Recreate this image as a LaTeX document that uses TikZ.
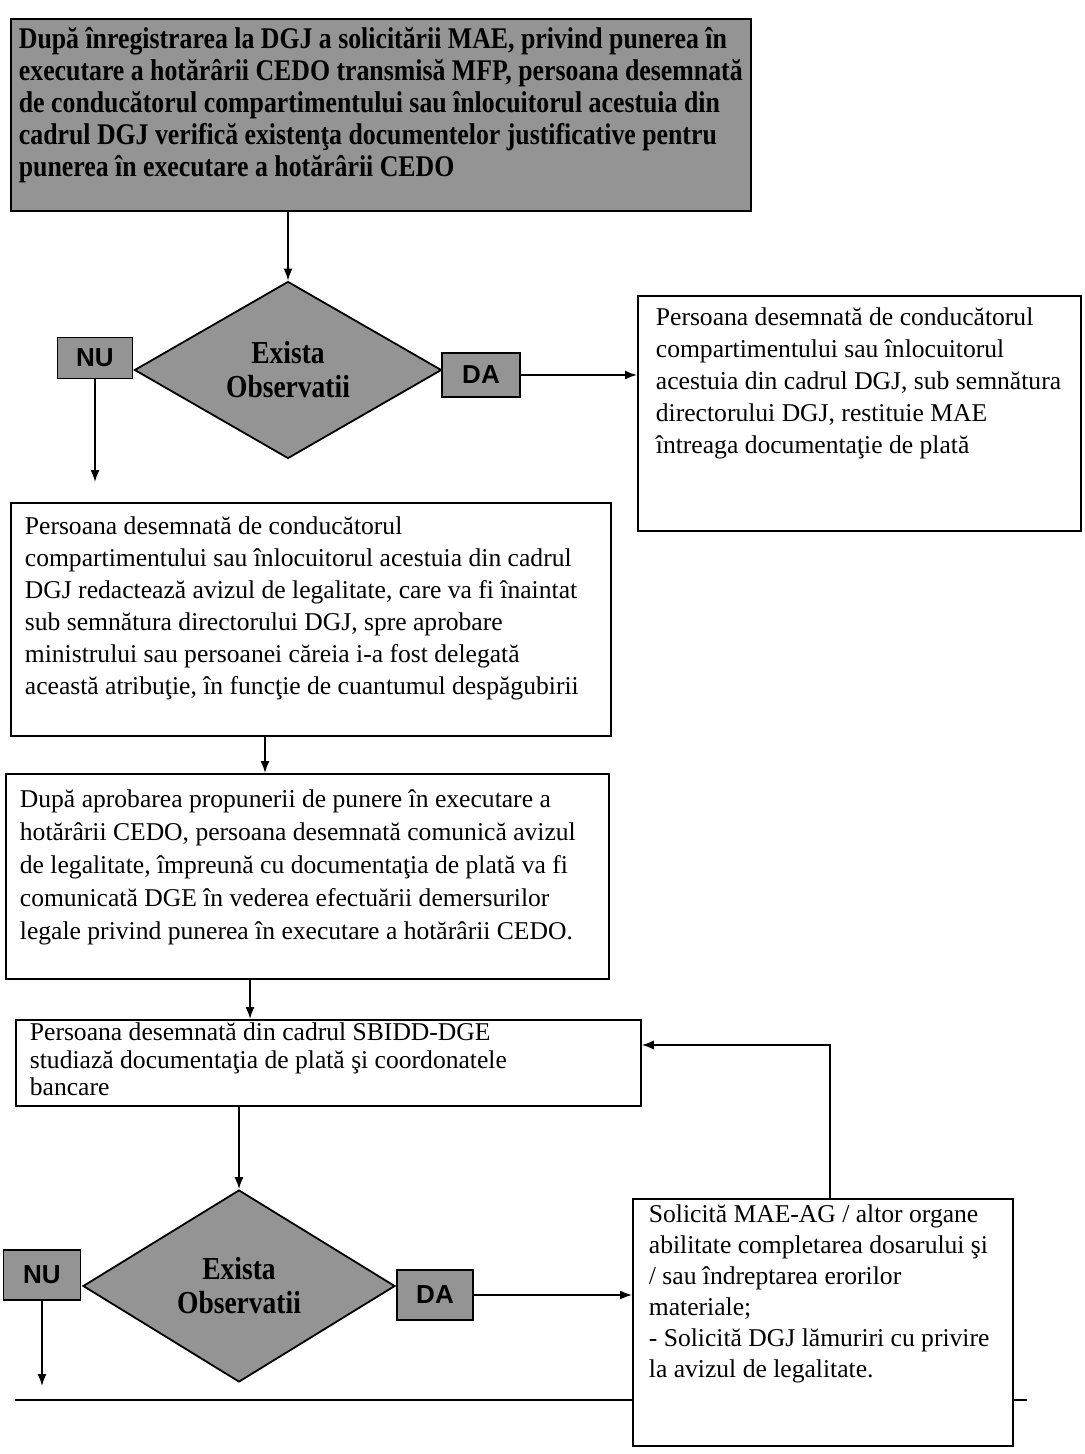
\documentclass[tikz,border=0pt]{standalone}
\usepackage{fontspec}
\setmainfont{Liberation Serif}
\newfontfamily\sansb{Liberation Sans}
\newfontfamily\condf{Liberation Serif}[FakeStretch=0.86]
\usetikzlibrary{shapes.geometric,arrows.meta}
\newcommand\mybx[3]{\parbox[c][#2][t]{#1}{\raggedright #3}}
\begin{document}
\begin{tikzpicture}[x=0.5pt,y=-0.5pt,
  shaded/.style={draw=black, line width=0.9pt, fill=black!42},
  plain/.style={draw=black, line width=0.9pt, fill=white, anchor=north west,
    font=\fontsize{12.8}{16}\selectfont},
  arr/.style={line width=0.8pt, -{Latex[length=6pt,width=4.5pt]}},
  lbl/.style={shaded, inner sep=0pt, font=\sansb\bfseries\fontsize{13}{13}\selectfont},
  dec/.style={shaded, diamond, aspect=1.73, inner sep=0pt, align=center,
    font=\condf\bfseries\fontsize{16}{17}\selectfont}
]
\useasboundingbox (0,0) rectangle (1084,1454);

% top box
\node[shaded, anchor=north west, inner xsep=4pt, inner ysep=4pt,
  font=\condf\bfseries\fontsize{15}{16}\selectfont] (top) at (10,18)
  {\mybx{362pt}{88pt}{După înregistrarea la DGJ a solicitării MAE, privind punerea în\\
  executare a hotărârii CEDO transmisă MFP, persoana desemnată\\
  de conducătorul compartimentului sau înlocuitorul acestuia din\\
  cadrul DGJ verifică existenţa documentelor justificative pentru\\
  punerea în executare a hotărârii CEDO}};

% first decision
\node[dec, minimum width=153.5pt, minimum height=88.5pt] (d1) at (288,370) {Exista\\Observatii};
\node[lbl, minimum width=37.5pt, minimum height=20.5pt] (nu1) at (95,358) {NU};
\node[lbl, minimum width=39pt, minimum height=22pt] (da1) at (481,375) {DA};

\node[plain, inner xsep=9pt, inner ysep=6pt] (rb1) at (637,295)
  {\mybx{203.5pt}{105.5pt}{Persoana desemnată de conducătorul\\
  compartimentului sau înlocuitorul\\
  acestuia din cadrul DGJ, sub semnătura\\
  directorului DGJ, restituie MAE\\
  întreaga documentaţie de plată}};

\node[plain, inner xsep=7pt, inner ysep=7pt] (b2) at (10,502)
  {\mybx{286pt}{102.5pt}{Persoana desemnată de conducătorul\\
  compartimentului sau înlocuitorul acestuia din cadrul\\
  DGJ redactează avizul de legalitate, care va fi înaintat\\
  sub semnătura directorului DGJ, spre aprobare\\
  ministrului sau persoanei căreia i-a fost delegată\\
  această atribuţie, în funcţie de cuantumul despăgubirii}};

\node[plain, inner xsep=7pt, inner ysep=8pt, font=\fontsize{12.8}{16.5}\selectfont] (b3) at (5,773)
  {\mybx{287.5pt}{86.5pt}{După aprobarea propunerii de punere în executare a\\
  hotărârii CEDO, persoana desemnată comunică avizul\\
  de legalitate, împreună cu documentaţia de plată va fi\\
  comunicată DGE în vederea efectuării demersurilor\\
  legale privind punerea în executare a hotărârii CEDO.}};

\node[plain, inner xsep=7pt, inner ysep=1.5pt, font=\fontsize{12.8}{13.8}\selectfont] (b4) at (15,1019)
  {\mybx{298.5pt}{40pt}{Persoana desemnată din cadrul SBIDD-DGE\\
  studiază documentaţia de plată şi coordonatele\\
  bancare}};

% second decision
\node[dec, minimum width=156pt, minimum height=96pt] (d2) at (239,1286) {Exista\\Observatii};
\node[lbl, minimum width=38.5pt, minimum height=25pt] (nu2) at (42,1275) {NU};
\node[lbl, minimum width=38pt, minimum height=25pt] (da2) at (435,1295) {DA};

% bottom line (continues on next page)
\coordinate (bl1) at (15,1400);
\coordinate (bl2) at (1027,1400);
\draw[line width=0.9pt] (bl1) -- (bl2);

\node[plain, inner xsep=8pt, inner ysep=3pt, font=\fontsize{12.8}{15.5}\selectfont] (rb2) at (632,1198)
  {\mybx{174pt}{117.5pt}{Solicită MAE-AG / altor organe\\
  abilitate completarea dosarului şi\\
  / sau îndreptarea erorilor\\
  materiale;\\
  - Solicită DGJ lămuriri cu privire\\
  la avizul de legalitate.}};

% connectors
\coordinate (c2) at (265,0);
\coordinate (c3) at (250,0);
\coordinate (lp) at (830,1045);
\draw[arr] (top.south -| d1.north) -- (d1.north);
\draw[arr] (da1.east) -- (da1.east -| rb1.west);
\draw[arr, shorten >=10pt] (nu1.south) -- (nu1.south |- b2.north);
\draw[arr] (b2.south -| c2) -- (b3.north -| c2);
\draw[arr] (b3.south -| c3) -- (b4.north -| c3);
\draw[arr] (b4.south -| d2.north) -- (d2.north);
\draw[arr] (da2.east) -- (da2.east -| rb2.west);
\draw[arr, shorten >=7pt] (nu2.south) -- (nu2.south |- bl1);
\draw[arr] (rb2.north -| lp) -- (lp) -- (lp -| b4.east);
\end{tikzpicture}
\end{document}
